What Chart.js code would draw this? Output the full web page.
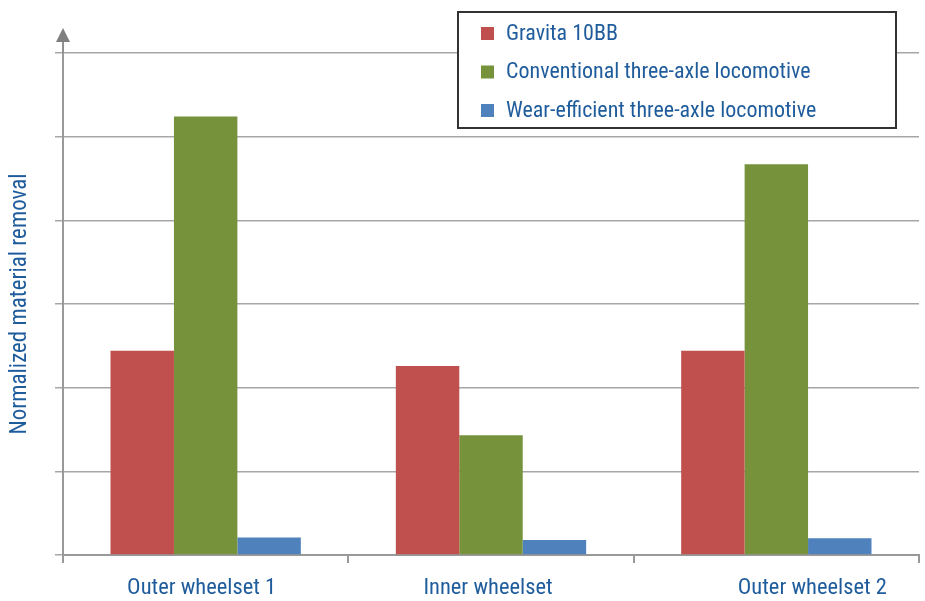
<!DOCTYPE html>
<html>
<head>
<meta charset="utf-8">
<script src="https://cdn.jsdelivr.net/npm/chart.js@4/dist/chart.umd.min.js"></script>
<style>
  html, body { margin: 0; padding: 0; background: #ffffff; }
  #wrap { width: 925px; height: 601px; }
</style>
</head>
<body>
<div id="wrap"><canvas id="c" width="925" height="601"></canvas></div>
<script>
// Wheel wear comparison: normalized material removal per wheelset
const categories = ['Outer wheelset 1', 'Inner wheelset', 'Outer wheelset 2'];
const seriesNames = ['Gravita 10BB', 'Conventional three-axle locomotive', 'Wear-efficient three-axle locomotive'];
const gravita = [2.44, 2.26, 2.44];
const conventional = [5.24, 1.43, 4.67];
const wearEfficient = [0.21, 0.18, 0.20];
const seriesColors = ['#C0504D', '#76933C', '#4F81BD'];

const textColor = '#1F5C9C';
const fontStack = '"Liberation Sans Narrow", "Roboto Condensed", Roboto, sans-serif';

// Category labels below the axis; the last one sits a little right of its slot
const labelShift = [-4, -3, 36];
const categoryLabels = {
  id: 'categoryLabels',
  afterDraw(chart) {
    const ctx = chart.ctx, xs = chart.scales.x;
    ctx.save();
    ctx.font = '22.5px ' + fontStack;
    ctx.fillStyle = textColor;
    ctx.textAlign = 'center';
    ctx.textBaseline = 'middle';
    categories.forEach((c, i) => {
      ctx.fillText(c, xs.getPixelForValue(i) + labelShift[i], chart.chartArea.bottom + 33);
    });
    ctx.restore();
  }
};

// Arrow head capping the value axis
const axisArrow = {
  id: 'axisArrow',
  afterDraw(chart) {
    const ctx = chart.ctx, a = chart.chartArea;
    const x = a.left;
    ctx.save();
    ctx.strokeStyle = '#8F8F8F';
    ctx.lineWidth = 2;
    ctx.beginPath();
    ctx.moveTo(x, a.top);
    ctx.lineTo(x, a.top - 12);
    ctx.stroke();
    ctx.fillStyle = '#808080';
    ctx.beginPath();
    ctx.moveTo(x, a.top - 25);
    ctx.lineTo(x - 7, a.top - 11);
    ctx.lineTo(x + 7, a.top - 11);
    ctx.closePath();
    ctx.fill();
    ctx.restore();
  }
};

// Boxed legend laid over the upper right of the plot
const boxLegend = {
  id: 'boxLegend',
  afterDraw(chart) {
    const ctx = chart.ctx;
    const box = { x: 458, y: 12, w: 438, h: 116 };
    ctx.save();
    ctx.fillStyle = '#ffffff';
    ctx.fillRect(box.x, box.y, box.w, box.h);
    ctx.strokeStyle = '#333333';
    ctx.lineWidth = 2;
    ctx.strokeRect(box.x, box.y, box.w, box.h);
    ctx.font = '22px ' + fontStack;
    ctx.textBaseline = 'middle';
    ctx.textAlign = 'left';
    chart.data.datasets.forEach((ds, i) => {
      const cy = box.y + 21 + i * 38.5;
      ctx.fillStyle = ds.backgroundColor;
      ctx.fillRect(box.x + 23, cy - 6, 13, 13);
      ctx.fillStyle = textColor;
      ctx.fillText(ds.label, box.x + 48, cy + 1);
    });
    ctx.restore();
  }
};

new Chart(document.getElementById('c'), {
  type: 'bar',
  data: {
    labels: categories,
    datasets: [
      { label: seriesNames[0], data: gravita, backgroundColor: seriesColors[0] },
      { label: seriesNames[1], data: conventional, backgroundColor: seriesColors[1] },
      { label: seriesNames[2], data: wearEfficient, backgroundColor: seriesColors[2] }
    ]
  },
  options: {
    responsive: false,
    devicePixelRatio: 1,
    animation: false,
    layout: { padding: { top: 53, right: 6, left: 0, bottom: 0 } },
    datasets: { bar: { barPercentage: 1, categoryPercentage: 0.667, borderWidth: 0 } },
    plugins: { legend: { display: false }, tooltip: { enabled: false } },
    scales: {
      x: {
        offset: true,
        ticks: { display: false },
        grid: { drawOnChartArea: false, drawTicks: true, tickLength: 8, color: '#999999', lineWidth: 2, offset: true },
        border: { display: true, color: '#999999', width: 2 },
        afterFit(s) { s.height = 46; }
      },
      y: {
        min: 0,
        max: 6,
        ticks: { display: false, stepSize: 1 },
        grid: { color: '#A6A6A6', lineWidth: 1.5, drawTicks: true, tickLength: 8 },
        border: { display: true, color: '#999999', width: 2 },
        title: {
          display: true,
          text: 'Normalized material removal',
          color: textColor,
          font: { family: fontStack, size: 23 },
          padding: { top: 6, bottom: 0 }
        },
        afterFit(s) { s.width = 63; }
      }
    }
  },
  plugins: [categoryLabels, axisArrow, boxLegend]
});
</script>
</body>
</html>
